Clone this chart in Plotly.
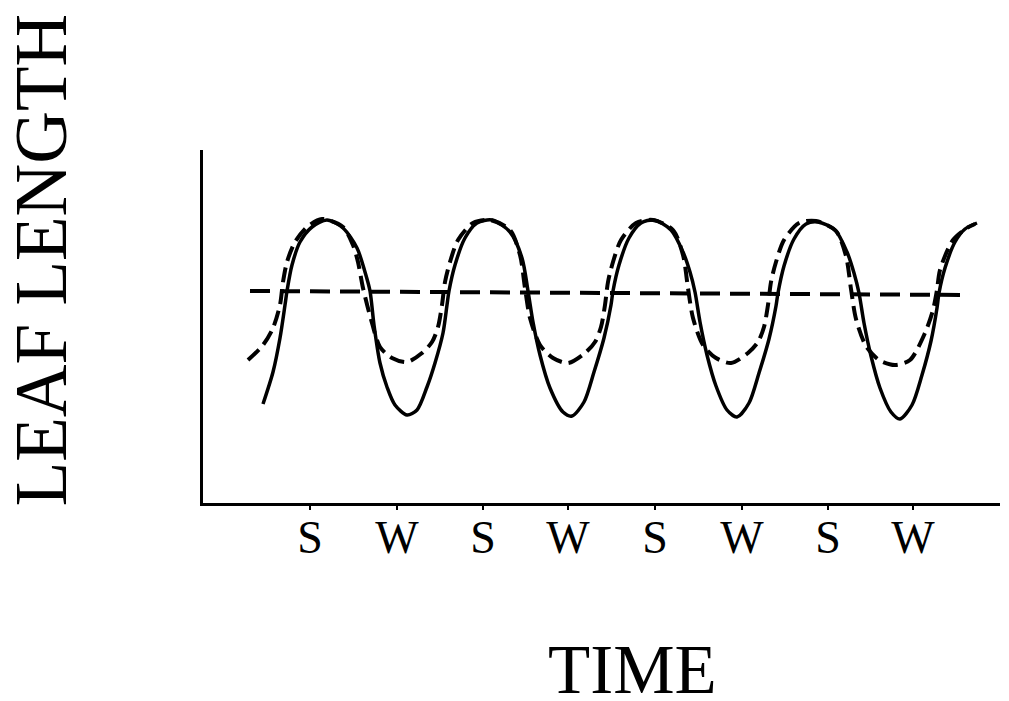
import plotly.graph_objects as go

# Time axis (arbitrary units) and tick labels (S = summer, W = winter)
tick_pos = [107, 194, 280, 365, 452, 539, 625, 710]
tick_labels = ["S", "W", "S", "W", "S", "W", "S", "W"]

# Solid curve: leaf length tracking seasons
solid_t = [60, 70, 77, 82, 84, 89, 97, 109, 124, 140, 154, 162, 167, 171, 177, 184, 192, 204,
           214, 224, 232, 240, 244, 246, 252, 262, 274, 289, 307, 319, 325, 330, 337, 347, 360, 369,
           381, 391, 401, 408, 410, 416, 426, 438, 451, 468, 480, 487, 492, 497, 504, 513, 524, 534,
           546, 556, 566, 573, 575, 581, 591, 603, 615, 632, 644, 651, 656, 661, 668, 677, 688, 697,
           709, 719, 728, 734, 736, 742, 752, 762, 774]
solid_len = [99, 131, 165, 198, 212, 238, 261, 276, 283, 275, 255, 231, 212, 178, 140, 116, 98, 88,
             93, 116, 140, 170, 198, 212, 238, 265, 280, 283, 271, 245, 212, 181, 148, 115, 91, 87,
             101, 131, 165, 198, 212, 238, 265, 280, 283, 273, 251, 231, 211, 181, 148, 117, 93, 86,
             100, 130, 164, 197, 210, 237, 264, 279, 281, 273, 251, 230, 210, 180, 147, 115, 91, 84,
             98, 128, 162, 195, 210, 235, 261, 274, 280]

# Dashed curve: damped winter decline
dashed_t = [45, 60, 70, 77, 80, 84, 92, 104, 119, 140, 150, 155, 160, 169, 177, 189, 204,
            219, 229, 235, 239, 242, 247, 255, 270, 287, 307, 317, 322, 327, 337, 350, 365,
            382, 392, 398, 402, 405, 410, 418, 433, 450, 470, 480, 485, 490, 500, 513, 528,
            545, 555, 561, 565, 568, 573, 581, 596, 613, 633, 643, 648, 653, 663, 676, 692,
            707, 722, 730, 734, 737, 750, 764, 772]
dashed_len = [143, 158, 175, 198, 221, 241, 261, 276, 284, 276, 258, 241, 215, 180, 156, 145, 141,
              150, 161, 176, 198, 221, 241, 263, 280, 283, 273, 248, 215, 185, 158, 145, 140,
              150, 161, 176, 198, 221, 241, 263, 280, 283, 273, 248, 215, 185, 158, 145, 140,
              150, 161, 176, 198, 221, 241, 263, 280, 282, 272, 247, 214, 184, 157, 143, 138,
              143, 170, 193, 213, 233, 263, 275, 279]

# Horizontal dashed reference (constant leaf length)
flat_t = [47, 767]
flat_len = [212, 208]

fig = go.Figure()
fig.add_trace(go.Scatter(x=flat_t, y=flat_len, mode="lines",
                         line=dict(color="black", width=4, dash="20px,10px")))
fig.add_trace(go.Scatter(x=dashed_t, y=dashed_len, mode="lines", line_shape="spline",
                         line=dict(color="black", width=4, dash="15px,7px", smoothing=0.8)))
fig.add_trace(go.Scatter(x=solid_t, y=solid_len, mode="lines", line_shape="spline",
                         line=dict(color="black", width=3.5, smoothing=0.8)))

serif = "Liberation Serif"

fig.update_layout(
    width=1009, height=701,
    margin=dict(l=203, r=9, t=150, b=198),
    paper_bgcolor="white", plot_bgcolor="white",
    showlegend=False,
    xaxis=dict(range=[0, 797], showgrid=False, zeroline=False,
               showline=True, linecolor="black", linewidth=3,
               ticks="outside", ticklen=4, tickwidth=2, tickcolor="black",
               tickvals=tick_pos, ticktext=tick_labels, ticklabelstandoff=-12,
               tickfont=dict(family=serif, size=46, color="black")),
    yaxis=dict(range=[0, 353], showgrid=False, zeroline=False,
               showline=True, linecolor="black", linewidth=3,
               showticklabels=False, ticks=""),
    annotations=[
        dict(text="LEAF LENGTH", xref="paper", yref="paper", x=-0.203, y=0.688,
             textangle=-90, showarrow=False, xanchor="center", yanchor="middle",
             font=dict(family=serif, size=73, color="black")),
        dict(text="TIME", xref="paper", yref="paper", x=0.5395, y=-0.474,
             showarrow=False, xanchor="center", yanchor="middle",
             font=dict(family=serif, size=69, color="black")),
    ],
)

fig.write_html("out.html", config={"displayModeBar": False},
               post_script="document.body.style.margin='0';document.body.style.overflow='hidden';")
